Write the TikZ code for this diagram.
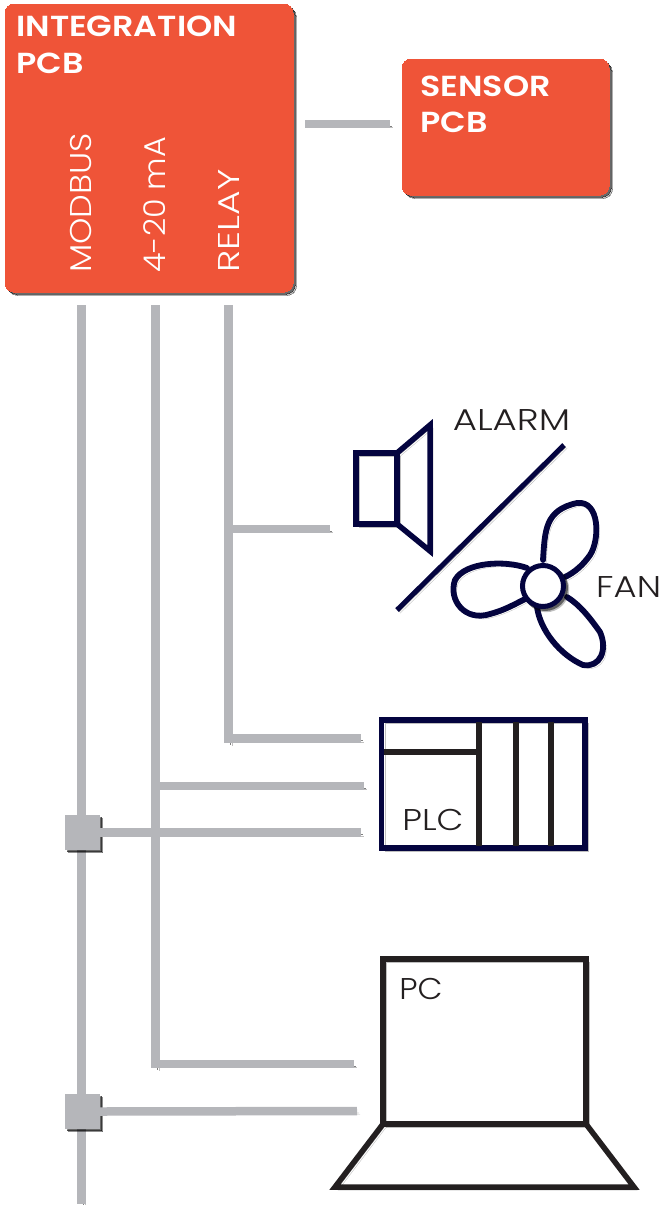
\documentclass[tikz,border=0pt]{standalone}
\usepackage{fontspec}
\setmainfont[BoldFont={Poppins SemiBold}]{Poppins Light}
\begin{document}
\begin{tikzpicture}[x=1pt,y=-1pt,
  sh/.style={preaction={draw=black,draw opacity=.25,fill=black,fill opacity=.25,transform canvas={shift={(3.4pt,-3.4pt)}}},
             preaction={draw=black,draw opacity=.45,fill=black,fill opacity=.45,transform canvas={shift={(2pt,-2pt)}}}},
  lsh/.style={preaction={draw=black,draw opacity=.25,transform canvas={shift={(3.2pt,-3.2pt)}}},
             preaction={draw=black,draw opacity=.5,transform canvas={shift={(2pt,-2pt)}}}},
  pcb/.style={sh,fill=pcbred,draw=pcbred,line width=0pt,rounded corners=9pt,inner sep=0pt,anchor=north west},
  wire/.style={lsh,draw=wiregray,line width=8.5pt},
  tap/.style={sh,fill=wiregray,draw=wiregray,line width=0pt,inner sep=0pt,minimum size=34pt},
  icon/.style={lsh,draw=navy,line width=5.5pt,line join=miter},
  blade/.style={lsh,draw=navy,line width=5.8pt,line join=round,line cap=round},
  inner/.style={draw=ink,line width=6pt},
  pcline/.style={lsh,draw=ink,line width=5.5pt,line join=miter},
  head/.style={text=white,font=\bfseries\fontsize{29}{29}\selectfont,anchor=west,inner sep=0pt,xscale=1.15},
  vert/.style={text=white,font=\fontsize{30}{30}\selectfont,rotate=90,anchor=west,inner sep=0pt},
  lab/.style={text=ink,font=\fontsize{30}{30}\selectfont,inner sep=0pt}]
\definecolor{pcbred}{HTML}{EF5438}
\definecolor{wiregray}{HTML}{B5B6BA}
\definecolor{navy}{HTML}{04043F}
\definecolor{ink}{HTML}{231F20}
\useasboundingbox (0,0) rectangle (663,1205);
\clip (0,0) rectangle (663,1205);

% sensor link
\node[pcb,minimum width=207pt,minimum height=136pt] (sensor) at (402,59) {};
\coordinate (sL) at (305,124); \coordinate (sR) at (390,124);
\draw[wire] (sL) -- (sR);
\node[head] (sensorA) at (420,86) {SENSOR};
\node[head] (sensorB) at (420,122) {PCB};

% integration board
\node[pcb,minimum width=288pt,minimum height=288pt] (integ) at (5,4) {};
\node[head] (integA) at (16,26) {INTEGRATION};
\node[head] (integB) at (16,63) {PCB};
\node[vert,xscale=1.12] (modbus) at (81,273) {MODBUS};
\node[vert,xscale=1.06] (ma) at (155,273) {4-20 mA};
\node[vert,xscale=1.26] (relay) at (229,273) {RELAY};

% trunks
\coordinate (m0) at (81.5,305);  \coordinate (m1) at (81.5,1204);
\coordinate (c0) at (155.5,305); \coordinate (c1) at (155.5,1068);
\coordinate (r0) at (228.5,305); \coordinate (r1) at (228.5,742.5);
\draw[wire] (m0) -- (m1);
\draw[wire] (c0) -- (c1);
\draw[wire] (r0) -- (r1);

% branches
\coordinate (bA0) at (232,529);  \coordinate (bA1) at (330,529);
\coordinate (bB0) at (224,738.5);\coordinate (bB1) at (361,738.5);
\coordinate (bC0) at (159,786);  \coordinate (bC1) at (364,786);
\coordinate (bD1) at (361,832.5);
\coordinate (bE0) at (151,1064); \coordinate (bE1) at (354,1064);
\coordinate (bF1) at (357,1111);
\draw[wire] (bA0) -- (bA1);
\draw[wire] (bB0) -- (bB1);
\draw[wire] (bC0) -- (bC1);
\draw[wire] (bE0) -- (bE1);
\node[tap] (t1) at (82.5,832.5) {};
\node[tap] (t2) at (82.5,1111.5) {};
\draw[wire] (t1.east) -- (bD1);
\draw[wire] (t2.east) -- (bF1);

% alarm speaker
\draw[icon] (356,453) rectangle (397,524);
\draw[icon] (397,453) -- (430,425) -- (430,551) -- (397,524);
\draw[icon,line width=5pt] (397,610) -- (564,445);
\node[lab,anchor=west,xscale=1.24] (alarm) at (452.5,420) {ALARM};

% fan
\draw[blade] (543,560) .. controls (545,530) and (545,510) .. (577,503)
  .. controls (600,500) and (600,540) .. (590,555) .. controls (583,565) and (575,572) .. (565,577);
\draw[blade] (527,568) .. controls (505,560) and (465,562) .. (455,580)
  .. controls (448,600) and (465,622) .. (490,614) .. controls (505,610) and (515,604) .. (527,598);
\draw[blade] (537,607) .. controls (540,630) and (560,655) .. (583,665)
  .. controls (600,668) and (608,650) .. (600,632) .. controls (590,618) and (580,605) .. (567,597);
\node[circle,lsh,draw=navy,fill=white,line width=5pt,minimum size=41pt,inner sep=0pt] (hub) at (543,586) {};
\node[lab,anchor=west,xscale=1.18] (fan) at (596,587) {FAN};

% PLC
\draw[icon] (381.5,720) rectangle (585,848);
\draw[inner] (479,722) -- (479,846);
\draw[inner] (516,722) -- (516,846);
\draw[inner] (551,722) -- (551,846);
\draw[inner] (384,751.5) -- (479,751.5);
\node[lab,xscale=1.16] (plc) at (433,820) {PLC};

% PC
\draw[pcline] (383,959) rectangle (586,1124);
\draw[pcline] (383,1124) -- (335,1187) -- (634,1187) -- (586,1124);
\node[lab,xscale=1.08] (pc) at (421,989) {PC};
\end{tikzpicture}
\end{document}
